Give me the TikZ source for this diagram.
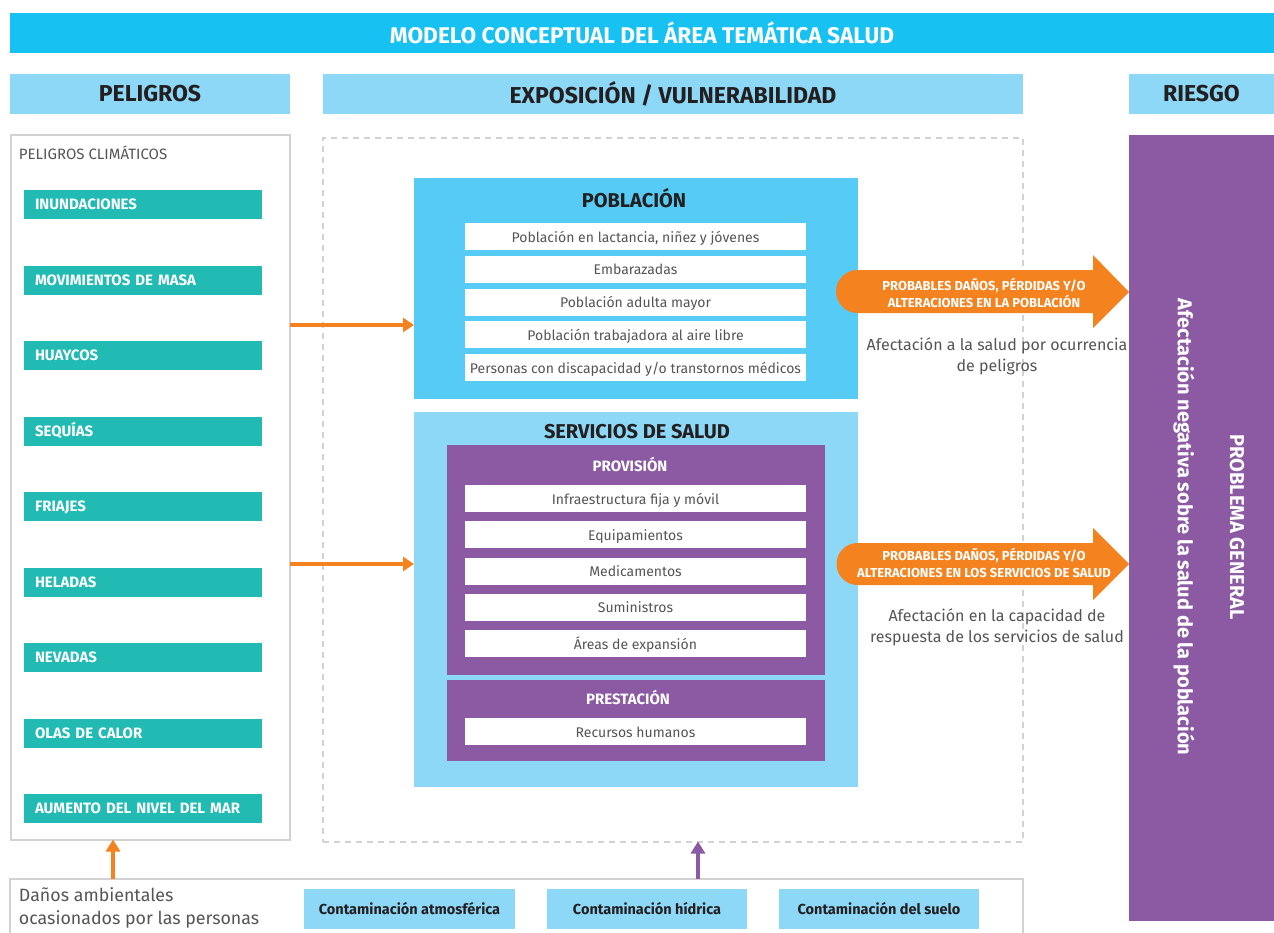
\documentclass[tikz,border=0pt]{standalone}
\usepackage{fontspec}
\setmainfont{Fira Sans}
\usetikzlibrary{arrows.meta}
\definecolor{titlecyan}{HTML}{17C1F2}
\definecolor{hdrblue}{HTML}{8DD8F6}
\definecolor{pobblue}{HTML}{56CBF5}
\definecolor{purp}{HTML}{8B5AA3}
\definecolor{tealc}{HTML}{22BBB3}
\definecolor{orng}{HTML}{F4831F}
\definecolor{graybd}{HTML}{D2D2D2}
\definecolor{darktxt}{HTML}{231F20}
\definecolor{graytxt}{HTML}{555555}
\begin{document}
\begin{tikzpicture}[x=1pt,y=-1pt,
  every node/.style={inner sep=0pt, outer sep=0pt},
  hdr/.style={fill=hdrblue, text=darktxt, minimum height=40, font=\fontsize{23}{26}\selectfont\bfseries},
  tealbox/.style={fill=tealc, text=white, minimum height=29, text width=216, text height=10.5pt, text depth=0pt, align=left, inner xsep=11pt, font=\fontsize{15}{17}\selectfont\bfseries},
  rowbox/.style={fill=white, text=graytxt, minimum width=341, minimum height=27, text height=11pt, text depth=0pt, font=\fontsize{14}{16}\selectfont},
  secttitle/.style={text=darktxt, font=\fontsize{20}{22}\selectfont\bfseries},
  subtitle/.style={text=white, font=\fontsize{15}{17}\selectfont\bfseries},
  arrtext/.style={text=white, align=center, font=\fontsize{13}{17}\selectfont\bfseries},
  bodytext/.style={text=graytxt, align=center, font=\fontsize{16}{21}\selectfont},
  contbox/.style={fill=hdrblue, text=darktxt, minimum height=40, font=\fontsize{14.5}{16}\selectfont\bfseries},
  thinarrow/.style={line width=4pt, -{Triangle[length=11pt,width=14pt]}}
]
\useasboundingbox (0,0) rectangle (1274,932);
\fill[white] (0,0) rectangle (1274,932);

% title
\node[fill=titlecyan, text=white, minimum width=1264, minimum height=40, font=\fontsize{22.7}{26}\selectfont\bfseries] (title) at (642,33) {MODELO CONCEPTUAL DEL ÁREA TEMÁTICA SALUD};

% headers
\node[hdr, minimum width=280] (hpel) at (150,94) {PELIGROS};
\node[hdr, minimum width=700] (hexp) at (673,94) {EXPOSICIÓN / VULNERABILIDAD};
\node[hdr, minimum width=145] (hries) at (1201.5,94) {RIESGO};

% left box
\node[draw=graybd, line width=2pt, minimum width=279, minimum height=705] (lbox) at (150,487) {};
\node[anchor=west, text=graytxt, font=\fontsize{15}{17}\selectfont] (pclim) at (19,153) {PELIGROS CLIMÁTICOS};
\foreach \name/\txt [count=\i from 0] in {p1/INUNDACIONES, p2/MOVIMIENTOS DE MASA, p3/HUAYCOS, p4/SEQUÍAS, p5/FRIAJES, p6/HELADAS, p7/NEVADAS, p8/OLAS DE CALOR, p9/AUMENTO DEL NIVEL DEL MAR}
  \node[tealbox] (\name) at (143, 204.5+75.5*\i) {\txt};

% dashed exposure box
\node[draw=graybd, line width=2pt, dash pattern=on 6pt off 5pt, minimum width=700, minimum height=704] (dbox) at (673,489.5) {};

% poblacion
\node[fill=pobblue, minimum width=444, minimum height=221] (pob) at (636,288.5) {};
\node[secttitle] (pobt) at (634,198) {POBLACIÓN};
\foreach \name/\txt [count=\i from 0] in {r1/{Población en lactancia, niñez y jóvenes}, r2/{Embarazadas}, r3/{Población adulta mayor}, r4/{Población trabajadora al aire libre}, r5/{Personas con discapacidad y{/}o transtornos médicos}}
  \node[rowbox] (\name) at (635.5, 236.5+32.75*\i) {\txt};

% servicios
\node[fill=hdrblue, minimum width=444, minimum height=375] (serv) at (636,599.5) {};
\node[secttitle] (servt) at (637,432) {SERVICIOS DE SALUD};
\node[fill=purp, minimum width=378, minimum height=230] (prov) at (636,560) {};
\node[subtitle] (provt) at (630,464) {PROVISIÓN};
\foreach \name/\txt [count=\i from 0] in {s1/Infraestructura fija y móvil, s2/Equipamientos, s3/Medicamentos, s4/Suministros, s5/Áreas de expansión}
  \node[rowbox] (\name) at (635.5, 498.5+36.25*\i) {\txt};
\node[fill=purp, minimum width=378, minimum height=81] (prest) at (636,720.5) {};
\node[subtitle] (prestt) at (628,697) {PRESTACIÓN};
\node[rowbox] (s6) at (635.5,731.5) {Recursos humanos};

% risk bar
\node[fill=purp, minimum width=145, minimum height=786] (rbar) at (1201.5,528) {};
\node[rotate=-90, text=white, font=\fontsize{20}{22}\selectfont\bfseries] (rtxt1) at (1184,527) {Afectación negativa sobre la salud de la población};
\node[rotate=-90, text=white, font=\fontsize{20}{22}\selectfont\bfseries] (rtxt2) at (1237,527) {PROBLEMA GENERAL};

% big orange arrows
\fill[orng] (857.5,291.5) circle[radius=21.5];
\fill[orng] (857.5,270) -- (1093,270) -- (1093,255) -- (1129,292) -- (1093,328) -- (1093,313) -- (857.5,313) -- cycle;
\node[arrtext] (a1t) at (984,292.5) {PROBABLES DAÑOS, PÉRDIDAS Y/O\\ALTERACIONES EN LA POBLACIÓN};
\fill[orng] (857.5,564) circle[radius=21];
\fill[orng] (857.5,543) -- (1093,543) -- (1093,528) -- (1129,564) -- (1093,600) -- (1093,585) -- (857.5,585) -- cycle;
\node[arrtext] (a2t) at (984,563) {PROBABLES DAÑOS, PÉRDIDAS Y/O\\ALTERACIONES EN LOS SERVICIOS DE SALUD};

\node[bodytext] (b1) at (997,356) {Afectación a la salud por ocurrencia\\de peligros};
\node[bodytext] (b2) at (997,627) {Afectación en la capacidad de\\respuesta de los servicios de salud};

% thin arrows from hazards
\coordinate (y1) at (0,325);
\coordinate (y2) at (0,564);
\draw[orng, thinarrow] (lbox.east |- y1) -- (pob.west |- y1);
\draw[orng, thinarrow] (lbox.east |- y2) -- (serv.west |- y2);

% bottom box
\node[draw=graybd, line width=2pt, anchor=north west, minimum width=1013, minimum height=80] (dmg) at (10,879) {};
\node[anchor=north west, text=graytxt, align=left, font=\fontsize{17.8}{23}\selectfont] (dmgt) at (19,888) {Daños ambientales\\ocasionados por las personas};
\node[contbox, minimum width=211] (c1) at (409.5,909) {Contaminación atmosférica};
\node[contbox, minimum width=200] (c2) at (647,909) {Contaminación hídrica};
\node[contbox, minimum width=200] (c3) at (879,909) {Contaminación del suelo};

\coordinate (xo) at (113,0);
\coordinate (xp) at (698,0);
\draw[orng, line width=4pt, -{Triangle[length=12pt,width=14pt]}] (dmg.north -| xo) -- (lbox.south -| xo);
\draw[purp, line width=4pt, -{Triangle[length=12pt,width=14pt]}] (dmg.north -| xp) -- (dbox.south -| xp);
\end{tikzpicture}
\end{document}
